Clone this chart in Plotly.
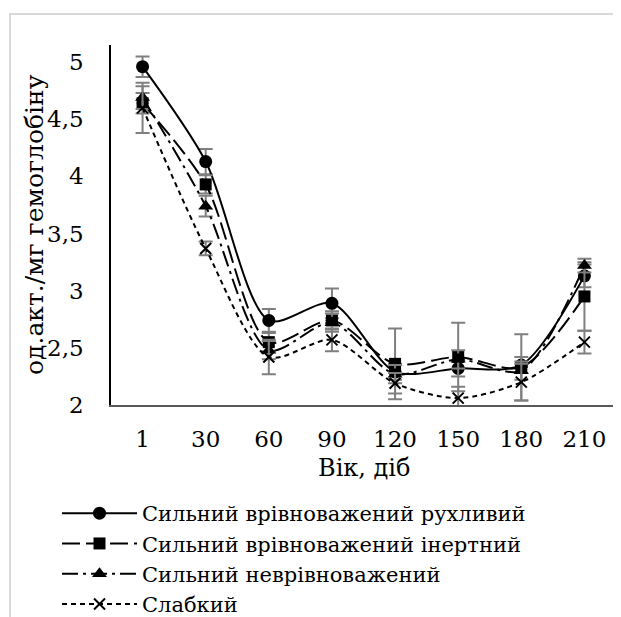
import plotly.graph_objects as go

categories = ["1", "30", "60", "90", "120", "150", "180", "210"]

names = [
    "Сильний врівноважений рухливий",
    "Сильний врівноважений інертний",
    "Сильний неврівноважений",
    "Слабкий",
]

s1 = [4.96, 4.13, 2.74, 2.89, 2.29, 2.32, 2.35, 3.13]
s2 = [4.64, 3.93, 2.55, 2.74, 2.36, 2.42, 2.33, 2.95]
s3 = [4.69, 3.74, 2.48, 2.72, 2.27, 2.40, 2.30, 3.22]
s4 = [4.60, 3.37, 2.42, 2.57, 2.19, 2.06, 2.20, 2.55]

e1 = [0.09, 0.11, 0.10, 0.13, 0.07, 0.07, 0.07, 0.10]
e2 = [0.09, 0.08, 0.08, 0.08, 0.31, 0.30, 0.29, 0.30]
e3 = [0.10, 0.09, 0.08, 0.08, 0.08, 0.08, 0.08, 0.06]
e4 = [0.22, 0.06, 0.15, 0.10, 0.09, 0.10, 0.16, 0.10]

y_ticks = [2, 2.5, 3, 3.5, 4, 4.5, 5]
y_tick_text = ["2", "2,5", "3", "3,5", "4", "4,5", "5"]

x_title = "Вік, діб"
y_title = "од.акт./мг гемоглобіну"

FONT = "DejaVu Serif"
FS = 23

series = [
    (s1, e1, "solid", dict(symbol="circle", size=13, color="black")),
    (s2, e2, "18px,6px", dict(symbol="square", size=12, color="black")),
    (s3, e3, "16px,5px,3px,5px", dict(symbol="triangle-up", size=13, color="black")),
    (s4, e4, "5px,4px", dict(symbol="x-thin", size=11, color="black",
                              line=dict(color="black", width=2))),
]

fig = go.Figure()
for (vals, errs, dash, marker), name in zip(series, names):
    fig.add_trace(go.Scatter(
        x=categories, y=vals,
        name='<span style="font-size:21px">%s</span>' % name,
        mode="lines+markers",
        line=dict(color="black", width=2, dash=dash, shape="spline", smoothing=0.8),
        marker=marker,
        error_y=dict(type="data", array=errs, visible=True, color="#7f7f7f",
                     thickness=2, width=7),
    ))

W, H = 613, 609
fig.update_layout(
    width=W, height=H,
    margin=dict(l=103, r=5, t=37, b=212, autoexpand=False),
    paper_bgcolor="white", plot_bgcolor="white",
    font=dict(family=FONT, size=FS, color="black"),
    showlegend=True,
    legend=dict(x=(49 - 103) / 505, y=(397 - 485) / 360, xanchor="left", yanchor="top",
                font=dict(family=FONT, size=21, color="black"),
                tracegroupgap=0, itemwidth=75, bgcolor="rgba(0,0,0,0)"),
    xaxis=dict(
        type="category", range=[-0.5, 7.5],
        showline=True, linecolor="#595959", linewidth=2,
        showgrid=False, ticks="", zeroline=False, automargin=False,
        ticklabelstandoff=12,
        tickfont=dict(family=FONT, size=FS, color="black"),
    ),
    yaxis=dict(
        range=[2, 5.15], tickvals=y_ticks, ticktext=y_tick_text,
        showline=True, linecolor="black", linewidth=1.5,
        showgrid=False, ticks="", zeroline=False, automargin=False,
        ticklabelstandoff=21,
        tickfont=dict(family=FONT, size=FS, color="black"),
    ),
    annotations=[
        dict(text=x_title, xref="paper", yref="paper", x=0.5, y=(397 - 460) / 360,
             xanchor="center", yanchor="middle", showarrow=False,
             font=dict(family=FONT, size=24, color="black")),
        dict(text=y_title, xref="paper", yref="paper", x=(26 - 103) / 505, y=0.5,
             xanchor="center", yanchor="middle", showarrow=False, textangle=-90,
             font=dict(family=FONT, size=25, color="black")),
    ],
    shapes=[dict(type="rect", xref="paper", yref="paper",
                 x0=(2 - 103) / 505, x1=1.05, y0=-0.7, y1=(397 - 6) / 360,
                 line=dict(color="#d9d9d9", width=2), layer="below")],
)

fig.write_html("out.html")
